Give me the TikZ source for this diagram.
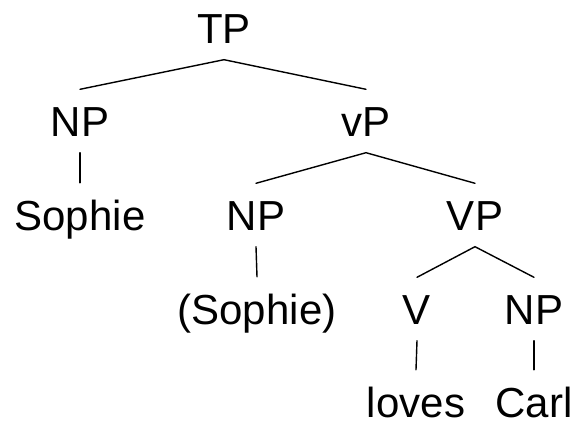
\documentclass[tikz,border=0pt]{standalone}
\usepackage{fontspec}
\setmainfont{Liberation Sans}
\begin{document}
\begin{tikzpicture}[x=1pt,y=1pt,
  cat/.style={font=\fontsize{42}{48}\selectfont, anchor=base,
              text height=30pt, text depth=0pt, inner xsep=0pt, inner ysep=16.5pt},
  leaf/.style={font=\fontsize{42}{48}\selectfont, anchor=base,
              text height=47pt, text depth=0pt, inner xsep=0pt, inner ysep=0pt},
  branch/.style={line width=1.4pt, line cap=round}]
  \useasboundingbox (0,0) rectangle (574,-423);

  % row 1
  \node[cat] (tp)  at (224,-43)  {TP};
  % row 2
  \node[cat] (np1) at (80,-136)  {NP};
  \node[cat] (vp1) at (366,-136) {vP};
  % row 3
  \node[leaf] (soph) at (80,-230)  {Sophie};
  \node[cat]  (np2)  at (256,-230) {NP};
  \node[cat]  (vp2)  at (475,-230) {VP};
  % row 4
  \node[leaf] (tr)  at (257,-324) {(Sophie)};
  \node[cat]  (v)   at (417,-324) {V};
  \node[cat]  (np3) at (534,-324) {NP};
  % row 5
  \node[leaf] (loves) at (416,-417) {loves};
  \node[leaf] (carl)  at (534,-417) {Carl};

  % branches
  \draw[branch] (np1.north) -- (tp.south) -- (vp1.north);
  \draw[branch] (np1.south) -- (soph.north);
  \draw[branch] (np2.north) -- (vp1.south) -- (vp2.north);
  \draw[branch] (np2.south) -- (tr.north);
  \draw[branch] (v.north) -- (vp2.south) -- (np3.north);
  \draw[branch] (v.south) -- (loves.north);
  \draw[branch] (np3.south) -- (carl.north);
\end{tikzpicture}
\end{document}
